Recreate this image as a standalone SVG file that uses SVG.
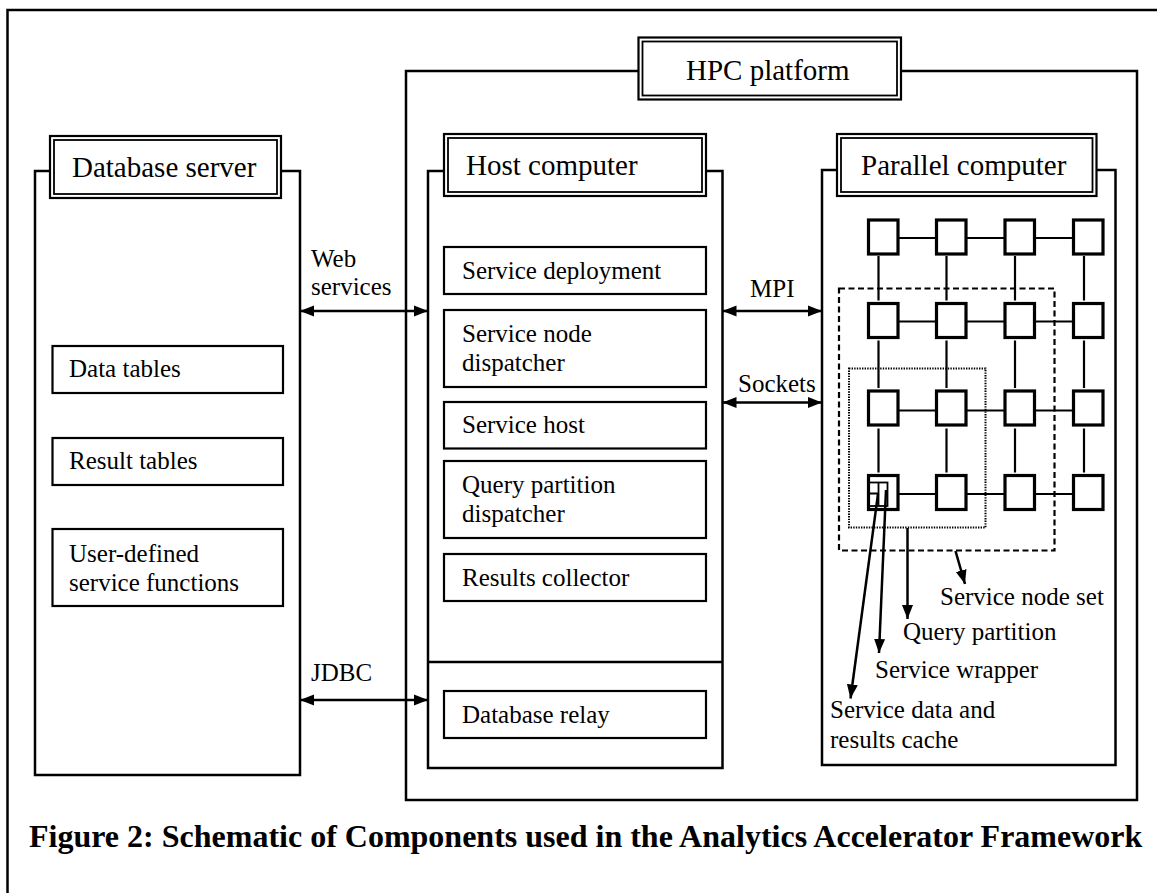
<svg xmlns="http://www.w3.org/2000/svg" width="1157" height="893" viewBox="0 0 1157 893">
  <style>
    text { font-family: "Liberation Serif", "Times New Roman", serif; fill: #000; }
    .title { font-size: 29px; }
    .lbl { font-size: 25px; }
    .cap { font-size: 32px; font-weight: bold; }
    .frame { fill: none; stroke: #000; stroke-width: 2.5; }
    .box { fill: #fff; stroke: #000; stroke-width: 2.2; }
    .dbl-o { fill: #fff; stroke: #000; stroke-width: 2.2; }
    .dbl-i { fill: none; stroke: #000; stroke-width: 1.8; }
    .node { fill: #fff; stroke: #000; stroke-width: 3.2; }
    .link { stroke: #000; stroke-width: 2.2; fill: none; }
    .conn { stroke: #000; stroke-width: 2.5; fill: none; }
    .dashed { fill: none; stroke: #000; stroke-width: 2.2; stroke-dasharray: 6 3.5; }
    .dotted { fill: none; stroke: #000; stroke-width: 2; stroke-dasharray: 1.4 1.2; }
  </style>
  <defs>
    <marker id="head" markerUnits="userSpaceOnUse" markerWidth="15" markerHeight="12" refX="14" refY="6" orient="auto-start-reverse">
      <path d="M0,0.5 L14,6 L0,11.5 z" fill="#000"/>
    </marker>
  </defs>

  <rect width="1157" height="893" fill="#fff"/>

  <!-- outer frame: only top and left edges fall inside the canvas -->
  <path class="frame" d="M7.5,893 V10 H1157"/>

  <!-- HPC platform -->
  <g id="hpc-platform">
    <path class="frame" d="M638,71 H406 V800 H1137 V71 H901"/>
    <rect class="dbl-o" x="638.5" y="37.5" width="262.5" height="62"/>
    <rect class="dbl-i" x="642.5" y="41.5" width="254.5" height="54"/>
    <text class="title" x="686" y="80">HPC platform</text>
  </g>

  <!-- Database server -->
  <g id="database-server">
    <path class="frame" d="M50,171 H35 V775 H300 V171 H281"/>
    <rect class="dbl-o" x="50" y="136" width="231" height="62"/>
    <rect class="dbl-i" x="54" y="140" width="223" height="54"/>
    <text class="title" x="72" y="177">Database server</text>
    <rect class="box" x="52.5" y="346" width="230.5" height="47"/>
    <text class="lbl" x="69" y="377">Data tables</text>
    <rect class="box" x="52.5" y="438" width="230.5" height="47"/>
    <text class="lbl" x="69" y="469">Result tables</text>
    <rect class="box" x="52.5" y="529" width="230.5" height="77"/>
    <text class="lbl" x="69" y="562">User-defined</text>
    <text class="lbl" x="69" y="591">service functions</text>
  </g>

  <!-- Host computer -->
  <g id="host-computer">
    <path class="frame" d="M444,171 H428 V768 H722.5 V171 H706"/>
    <line class="frame" x1="428" y1="662" x2="722.5" y2="662"/>
    <rect class="dbl-o" x="444" y="134" width="262" height="62"/>
    <rect class="dbl-i" x="448" y="138" width="254" height="54"/>
    <text class="title" x="466" y="175">Host computer</text>
    <rect class="box" x="444" y="247" width="262" height="47"/>
    <text class="lbl" x="462" y="279">Service deployment</text>
    <rect class="box" x="444" y="310" width="262" height="77"/>
    <text class="lbl" x="462" y="342">Service node</text>
    <text class="lbl" x="462" y="371">dispatcher</text>
    <rect class="box" x="444" y="402" width="262" height="46.5"/>
    <text class="lbl" x="462" y="433">Service host</text>
    <rect class="box" x="444" y="461" width="262" height="77"/>
    <text class="lbl" x="462" y="493">Query partition</text>
    <text class="lbl" x="462" y="522">dispatcher</text>
    <rect class="box" x="444" y="554" width="262" height="47"/>
    <text class="lbl" x="462" y="586">Results collector</text>
    <rect class="box" x="444" y="691" width="262" height="47"/>
    <text class="lbl" x="462" y="723">Database relay</text>
  </g>

  <!-- Parallel computer -->
  <g id="parallel-computer">
    <path class="frame" d="M837,170 H822 V765 H1115.5 V170 H1096.5"/>
    <rect class="dbl-o" x="837" y="134" width="259.5" height="62"/>
    <rect class="dbl-i" x="841" y="138" width="251.5" height="54"/>
    <text class="title" x="861" y="175">Parallel computer</text>
  </g>

  <!-- processor mesh -->
  <g id="node-grid">
    <g class="link">
      <!-- horizontal links -->
      <path d="M898,238 H936.5 M966,238 H1005 M1034.5,238 H1073.5"/>
      <path d="M898,321.5 H936.5 M966,321.5 H1005 M1034.5,321.5 H1073.5"/>
      <path d="M898,410.5 H936.5 M966,410.5 H1005 M1034.5,410.5 H1073.5"/>
      <path d="M898,494 H936.5 M966,494 H1005 M1034.5,494 H1073.5"/>
      <!-- vertical links -->
      <path d="M878.5,256 V300.5 M878.5,340.5 V388 M878.5,428.5 V472.5"/>
      <path d="M946.5,256 V300.5 M946.5,340.5 V388 M946.5,428.5 V472.5"/>
      <path d="M1015,256 V300.5 M1015,340.5 V388 M1015,428.5 V472.5"/>
      <path d="M1084,256 V300.5 M1084,340.5 V388 M1084,428.5 V472.5"/>
    </g>
    <g class="node">
      <rect x="868.5" y="220" width="29.5" height="34"/>
      <rect x="936.5" y="220" width="29.5" height="34"/>
      <rect x="1005" y="220" width="29.5" height="34"/>
      <rect x="1073.5" y="220" width="29.5" height="34"/>
      <rect x="868.5" y="303.5" width="29.5" height="34"/>
      <rect x="936.5" y="303.5" width="29.5" height="34"/>
      <rect x="1005" y="303.5" width="29.5" height="34"/>
      <rect x="1073.5" y="303.5" width="29.5" height="34"/>
      <rect x="868.5" y="391" width="29.5" height="34"/>
      <rect x="936.5" y="391" width="29.5" height="34"/>
      <rect x="1005" y="391" width="29.5" height="34"/>
      <rect x="1073.5" y="391" width="29.5" height="34"/>
      <rect x="868.5" y="475.5" width="29.5" height="34"/>
      <rect x="936.5" y="475.5" width="29.5" height="34"/>
      <rect x="1005" y="475.5" width="29.5" height="34"/>
      <rect x="1073.5" y="475.5" width="29.5" height="34"/>
    </g>
    <!-- service wrapper inside the first node -->
    <g id="service-wrapper" class="link">
      <rect x="869" y="482.5" width="18.5" height="23.5" stroke-width="1.8"/>
      <path d="M878.5,482.5 V506 M869,493.5 H878.5" stroke-width="1.8"/>
    </g>
    <rect id="service-node-set" class="dashed" x="839" y="288.5" width="215.5" height="262"/>
    <rect id="query-partition" class="dotted" x="849" y="368.5" width="136.5" height="159"/>
  </g>

  <!-- connectors -->
  <g id="connectors" class="conn">
    <line x1="300" y1="311" x2="428" y2="311" marker-start="url(#head)" marker-end="url(#head)"/>
    <line x1="722.5" y1="311" x2="822" y2="311" marker-start="url(#head)" marker-end="url(#head)"/>
    <line x1="722.5" y1="402.5" x2="822" y2="402.5" marker-start="url(#head)" marker-end="url(#head)"/>
    <line x1="300" y1="700" x2="428" y2="700" marker-start="url(#head)" marker-end="url(#head)"/>
    <line x1="955.5" y1="551" x2="965" y2="584" marker-end="url(#head)"/>
    <line x1="907.5" y1="528" x2="907.5" y2="619" marker-end="url(#head)"/>
    <line x1="886" y1="490" x2="879" y2="653" marker-end="url(#head)"/>
    <line x1="878" y1="494" x2="850.5" y2="698.5" marker-end="url(#head)"/>
  </g>

  <!-- connector labels -->
  <g id="connector-labels">
    <text class="lbl" x="311" y="267">Web</text>
    <text class="lbl" x="311" y="295">services</text>
    <text class="lbl" x="750" y="297">MPI</text>
    <text class="lbl" x="738" y="392">Sockets</text>
    <text class="lbl" x="311" y="681">JDBC</text>
    <text class="lbl" x="940" y="605">Service node set</text>
    <text class="lbl" x="903" y="640">Query partition</text>
    <text class="lbl" x="875" y="678">Service wrapper</text>
    <text class="lbl" x="830" y="718">Service data and</text>
    <text class="lbl" x="830" y="748">results cache</text>
  </g>

  <text class="cap" x="29" y="847">Figure 2: Schematic of Components used in the Analytics Accelerator Framework</text>
</svg>
